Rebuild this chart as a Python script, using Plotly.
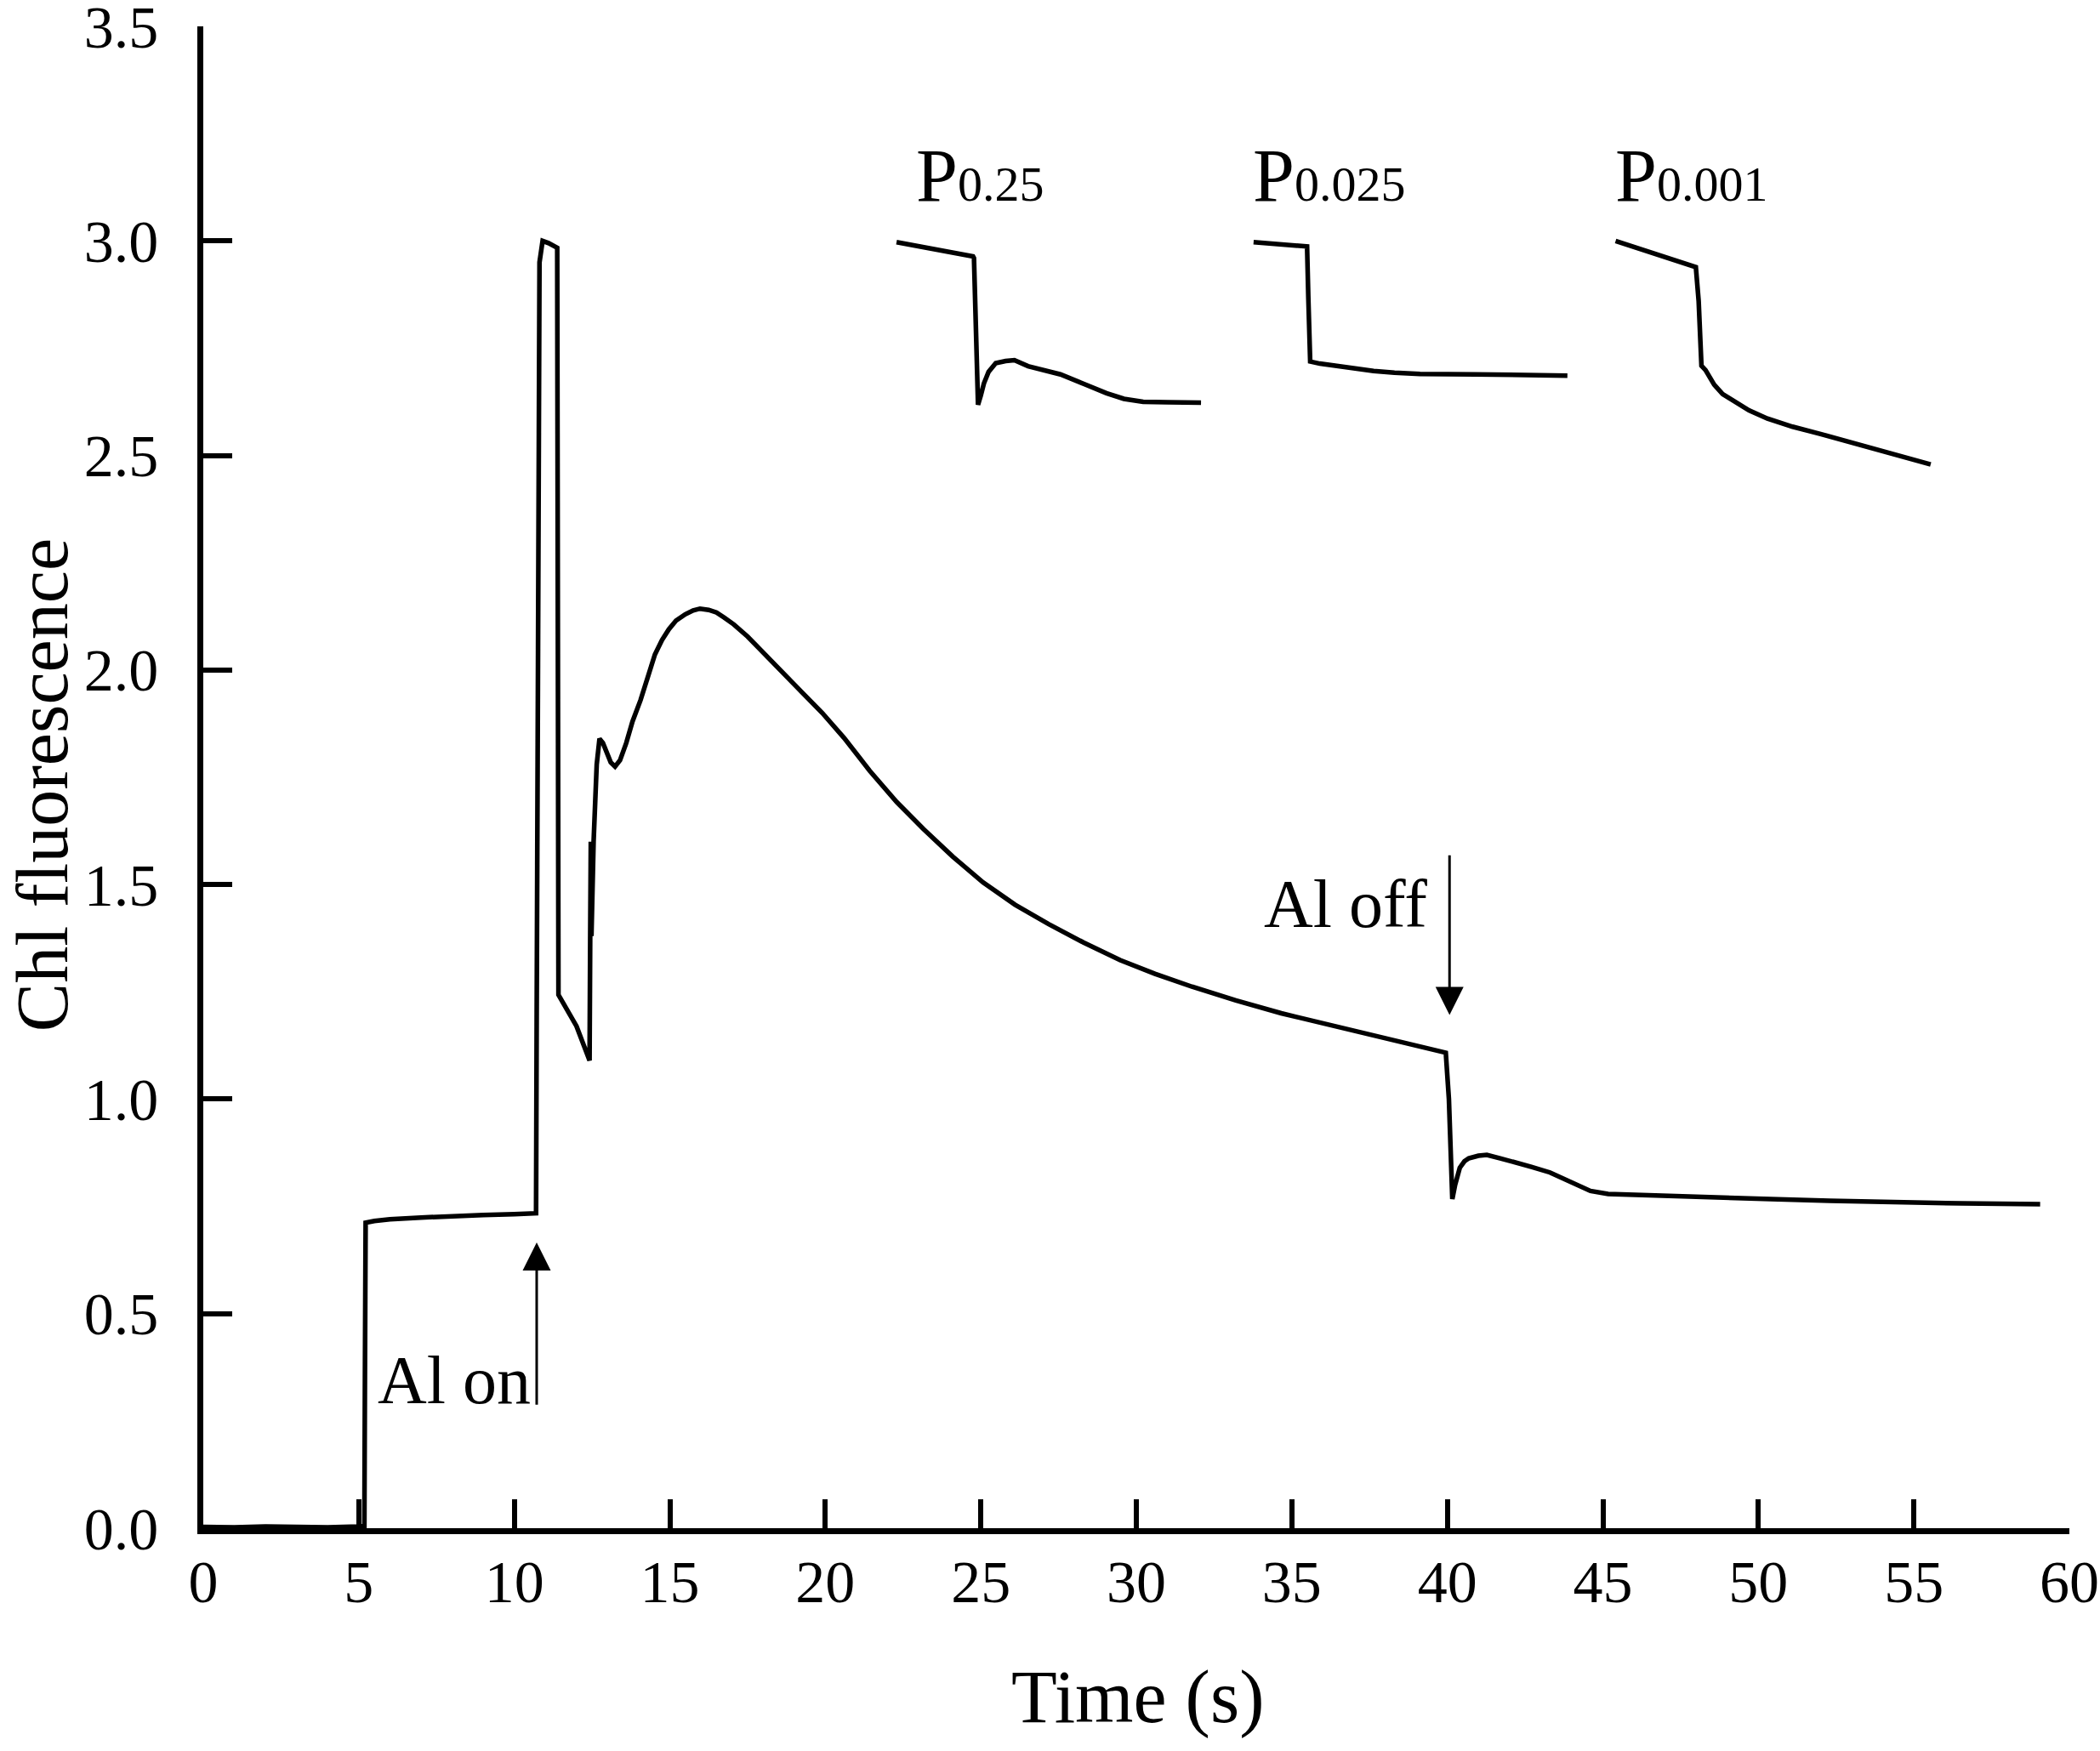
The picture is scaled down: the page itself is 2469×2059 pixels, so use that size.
import plotly.graph_objects as go

# main fluorescence trace (s, a.u.)
time_s = [0, 1, 2, 3, 4, 5.0, 5.18, 5.2, 5.22, 5.5, 6, 7, 8, 9, 10,
          10.7, 10.72, 10.81, 10.91, 11.1, 11.38, 11.4, 11.41, 11.42, 12.0, 12.42,
          12.44, 12.46, 12.48, 12.5, 12.55, 12.65, 12.74, 12.85, 13.0, 13.1, 13.24,
          13.4, 13.6, 13.8, 14.06, 14.3, 14.52, 14.75, 14.97, 15.2, 15.5, 15.75,
          15.97, 16.25, 16.5, 16.75, 17.06, 17.5, 18.0, 18.61, 19.25, 19.9, 20.6,
          21.43, 22.3, 23.16, 24.1, 25.07, 26.1, 27.18, 28.3, 29.48, 30.6, 31.79,
          33.2, 34.66, 36.1, 37.54, 38.7, 39.84, 39.95,
          40.05, 40.12, 40.16, 40.25, 40.4, 40.55, 40.69, 41.0, 41.27, 41.7, 42.2,
          42.7, 43.3, 43.8, 44.2, 44.6, 45.17, 46.68, 48.5, 50.4, 52.3, 54.1, 56.5, 59.06]
fluor = [0.003, 0.002, 0.004, 0.003, 0.002, 0.004, 0.005, 0.4, 0.712, 0.716, 0.72, 0.724, 0.728, 0.73, 0.732,
         0.734, 1.2, 2.95, 3.0, 2.995, 2.984, 2.5, 1.35, 1.243, 1.17, 1.09,
         1.37, 1.6, 1.38, 1.45, 1.6, 1.78, 1.84, 1.83, 1.8, 1.785, 1.775,
         1.79, 1.83, 1.88, 1.93, 1.985, 2.036, 2.07, 2.095, 2.115, 2.13, 2.139,
         2.143, 2.14, 2.134, 2.122, 2.106, 2.078, 2.04, 1.993, 1.948, 1.9, 1.842,
         1.765, 1.692, 1.629, 1.565, 1.505, 1.453, 1.408, 1.365, 1.324, 1.292, 1.262,
         1.23, 1.2, 1.175, 1.152, 1.131, 1.111, 1.108,
         1.0, 0.78, 0.767, 0.8, 0.84, 0.855, 0.862, 0.868, 0.87, 0.862, 0.853,
         0.842, 0.829, 0.812, 0.8, 0.786, 0.779, 0.775, 0.771, 0.767, 0.763, 0.76, 0.757, 0.755]

# pulse insets
p025_t = [22.29, 24.75, 24.78, 24.82, 24.87, 24.91, 25.0, 25.1, 25.25, 25.48, 25.8, 26.08,
          26.52, 27.0, 27.56, 28.3, 29.04, 29.6, 30.22, 31.0, 32.08]
p025_f = [2.997, 2.964, 2.96, 2.85, 2.74, 2.618, 2.64, 2.668, 2.695, 2.715, 2.72, 2.722,
          2.708, 2.7, 2.689, 2.667, 2.645, 2.632, 2.625, 2.624, 2.623]
p0025_t = [33.77, 35.49, 35.53, 35.59, 35.9, 36.45, 37.0, 37.63, 38.3, 39.12, 40.9, 43.86]
p0025_f = [2.997, 2.987, 2.868, 2.719, 2.714, 2.708, 2.702, 2.697, 2.693, 2.69, 2.689, 2.686]
p0001_t = [45.41, 47.99, 48.08, 48.17, 48.3, 48.45, 48.58, 48.85, 49.21, 49.7, 50.29,
           51.1, 52.0, 52.8, 53.56, 54.5, 55.54]
p0001_f = [3.0, 2.939, 2.86, 2.709, 2.699, 2.68, 2.665, 2.643, 2.626, 2.605, 2.586,
           2.567, 2.55, 2.534, 2.518, 2.5, 2.479]

pulse_labels = ['0.25', '0.025', '0.001']
pulse_label_x = [22.87, 33.7, 45.35]

x_ticks = [0, 5, 10, 15, 20, 25, 30, 35, 40, 45, 50, 55, 60]
y_ticks = [0.0, 0.5, 1.0, 1.5, 2.0, 2.5, 3.0, 3.5]

FONT = 'Liberation Serif'

fig = go.Figure()
for xs, ys in [(time_s, fluor), (p025_t, p025_f), (p0025_t, p0025_f), (p0001_t, p0001_f)]:
    fig.add_trace(go.Scatter(x=xs, y=ys, mode='lines',
                             line=dict(color='black', width=5.5), showlegend=False))

annotations = []
for lab, lx in zip(pulse_labels, pulse_label_x):
    annotations.append(dict(
        x=lx, y=3.153, xref='x', yref='y', xanchor='left', yanchor='middle',
        text=f"P<span style='font-size:58px'>{lab}</span>",
        showarrow=False, font=dict(family=FONT, size=88, color='black')))

# Al on / Al off labels and arrows
annotations += [
    dict(x=10.58, y=0.345, xref='x', yref='y', xanchor='right', yanchor='middle',
         text='Al on', showarrow=False, font=dict(family=FONT, size=80, color='black')),
    dict(x=10.72, y=0.666, ax=10.72, ay=0.285, xref='x', yref='y', axref='x', ayref='y',
         text='', showarrow=True, arrowhead=2, arrowsize=2.2, arrowwidth=3, arrowcolor='black'),
    dict(x=39.42, y=1.455, xref='x', yref='y', xanchor='right', yanchor='middle',
         text='Al off', showarrow=False, font=dict(family=FONT, size=80, color='black')),
    dict(x=40.07, y=1.196, ax=40.07, ay=1.571, xref='x', yref='y', axref='x', ayref='y',
         text='', showarrow=True, arrowhead=2, arrowsize=2.2, arrowwidth=3, arrowcolor='black'),
    dict(x=0.5005, y=-0.1125, xref='paper', yref='paper', xanchor='center', yanchor='middle',
         text='Time (s)', showarrow=False, font=dict(family=FONT, size=88, color='black')),
    dict(x=-0.086, y=0.495, xref='paper', yref='paper', xanchor='center', yanchor='middle',
         text='Chl fluorescence', textangle=-90, showarrow=False,
         font=dict(family=FONT, size=86, color='black')),
]

axis_style = dict(showline=True, linewidth=6.5, linecolor='black', mirror=False,
                  ticks='inside', ticklen=34, tickwidth=6, tickcolor='black',
                  showgrid=False, zeroline=False, ticklabeloverflow='allow', automargin=False,
                  tickfont=dict(family=FONT, size=70, color='black'))

fig.update_layout(
    width=2469, height=2059, autosize=False,
    margin=dict(l=239, r=36, t=31, b=262),
    paper_bgcolor='white', plot_bgcolor='white',
    font=dict(family=FONT, color='black'),
    xaxis=dict(range=[0, 60], tickmode='array', tickvals=x_ticks,
               ticktext=[str(v) for v in x_ticks], ticklabelstandoff=-4, **axis_style),
    yaxis=dict(range=[0, 3.5], tickmode='array', tickvals=y_ticks,
               ticktext=[f'{v:.1f}' for v in y_ticks], ticklabelstandoff=32, **axis_style),
    annotations=annotations,
)

# drop the default page margin so the figure fills the window exactly
fig.write_html("out.html", config={'displayModeBar': False},
               post_script="document.body.style.margin='0';document.body.style.overflow='hidden';")
